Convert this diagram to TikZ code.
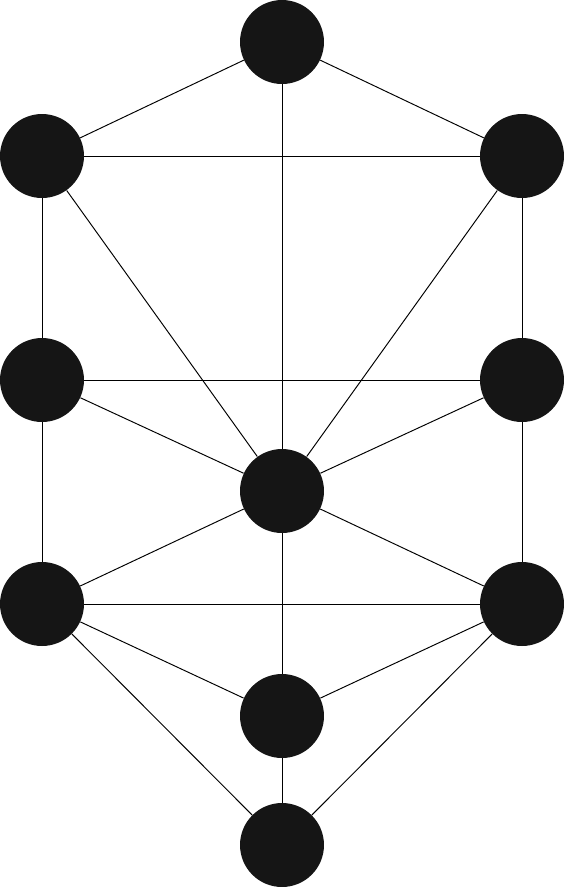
\documentclass[tikz,border=0pt]{standalone}
\usepackage{tikz}
\usetikzlibrary{calc,positioning}
\definecolor{sephcol}{HTML}{151515}
\tikzset{%
    sephira/.style={%
        circle, fill=sephcol, minimum size=1.68cm, inner sep=0pt
    },
    conn/.style={%
        draw=black, line width=0.55pt
    },
}
\begin{document}
\begin{tikzpicture}[x=0.02cm,y=-0.02cm]
      \useasboundingbox (0,0) rectangle (564,887);
      \node[sephira] (keter) at (282,42) {};
      \node[sephira] (chokmah) at (522,156) {};
      \node[sephira] (binah) at (42,156) {};
      \node[sephira] (chesed) at (522,380) {};
      \node[sephira] (gevurah) at (42,380) {};
      \node[sephira] (tiferet) at (282,491) {};
      \node[sephira] (netzach) at (522,604) {};
      \node[sephira] (hod) at (42,604) {};
      \node[sephira] (yesod) at (282,716) {};
      \node[sephira] (malkuth) at (282,845) {};

      \draw[conn] (keter) -- (binah);
      \draw[conn] (keter) -- (chokmah);
      \draw[conn] (keter) -- (tiferet);
      \draw[conn] (binah) -- (chokmah);
      \draw[conn] (binah) -- (gevurah);
      \draw[conn] (chokmah) -- (chesed);
      \draw[conn] (binah) -- (tiferet);
      \draw[conn] (chokmah) -- (tiferet);
      \draw[conn] (gevurah) -- (chesed);
      \draw[conn] (gevurah) -- (tiferet);
      \draw[conn] (chesed) -- (tiferet);
      \draw[conn] (gevurah) -- (hod);
      \draw[conn] (chesed) -- (netzach);
      \draw[conn] (hod) -- (tiferet);
      \draw[conn] (netzach) -- (tiferet);
      \draw[conn] (hod) -- (netzach);
      \draw[conn] (tiferet) -- (yesod);
      \draw[conn] (hod) -- (yesod);
      \draw[conn] (netzach) -- (yesod);
      \draw[conn] (yesod) -- (malkuth);
      \draw[conn] (hod) -- (malkuth);
      \draw[conn] (netzach) -- (malkuth);
    \end{tikzpicture}
\end{document}
